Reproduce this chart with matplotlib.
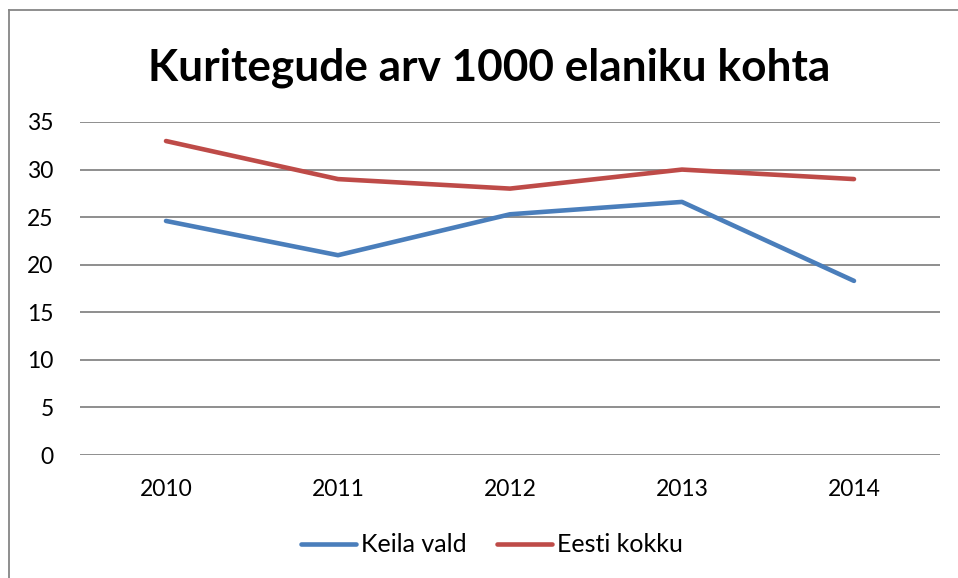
import matplotlib.pyplot as plt
from matplotlib.lines import Line2D

years = ["2010", "2011", "2012", "2013", "2014"]
keila_vald = [24.6, 21.0, 25.3, 26.6, 18.3]
eesti_kokku = [33.0, 29.0, 28.0, 30.0, 29.0]

plt.rcParams["font.family"] = ["Lato", "DejaVu Sans"]

fig = plt.figure(figsize=(9.58, 5.78), dpi=100)
ax = fig.add_axes([80 / 958, 1 - 455 / 578, 860 / 958, 333 / 578])

x = range(len(years))
ax.plot(x, keila_vald, color="#4A7EBB", lw=3.3, label="Keila vald", solid_capstyle="round")
ax.plot(x, eesti_kokku, color="#BE4B48", lw=3.3, label="Eesti kokku", solid_capstyle="round")

ax.set_xlim(-0.5, 4.5)
ax.set_ylim(0, 35)
ax.set_yticks(range(0, 36, 5))
ax.set_xticks(list(x))
ax.set_xticklabels(years)
ax.grid(axis="y", color="#868686", lw=1.3)
ax.set_axisbelow(True)
for s in ax.spines.values():
    s.set_visible(False)
ax.tick_params(length=0, labelsize=16.5, colors="black")
ax.tick_params(axis="y", pad=19)
ax.tick_params(axis="x", pad=17)

fig.text(489 / 958, 1 - 81 / 578, "Kuritegude arv 1000 elaniku kohta",
         ha="center", va="baseline", fontsize=31.8, fontweight="bold")

fig.legend(loc="center", bbox_to_anchor=(492 / 958, 1 - 545 / 578), ncol=2,
           frameon=False, fontsize=18, handlelength=2.2, handletextpad=0.2,
           columnspacing=1.2, borderaxespad=0, borderpad=0)

# chart area border (only top and left edges fall inside the image)
fl, ft = 8.5 / 958, 1 - 9.5 / 578
fig.add_artist(Line2D([fl, 1.0], [ft, ft], transform=fig.transFigure, color="#868686", lw=1.3))
fig.add_artist(Line2D([fl, fl], [0.0, ft], transform=fig.transFigure, color="#868686", lw=1.3))

fig.savefig("out.png", dpi=100)
